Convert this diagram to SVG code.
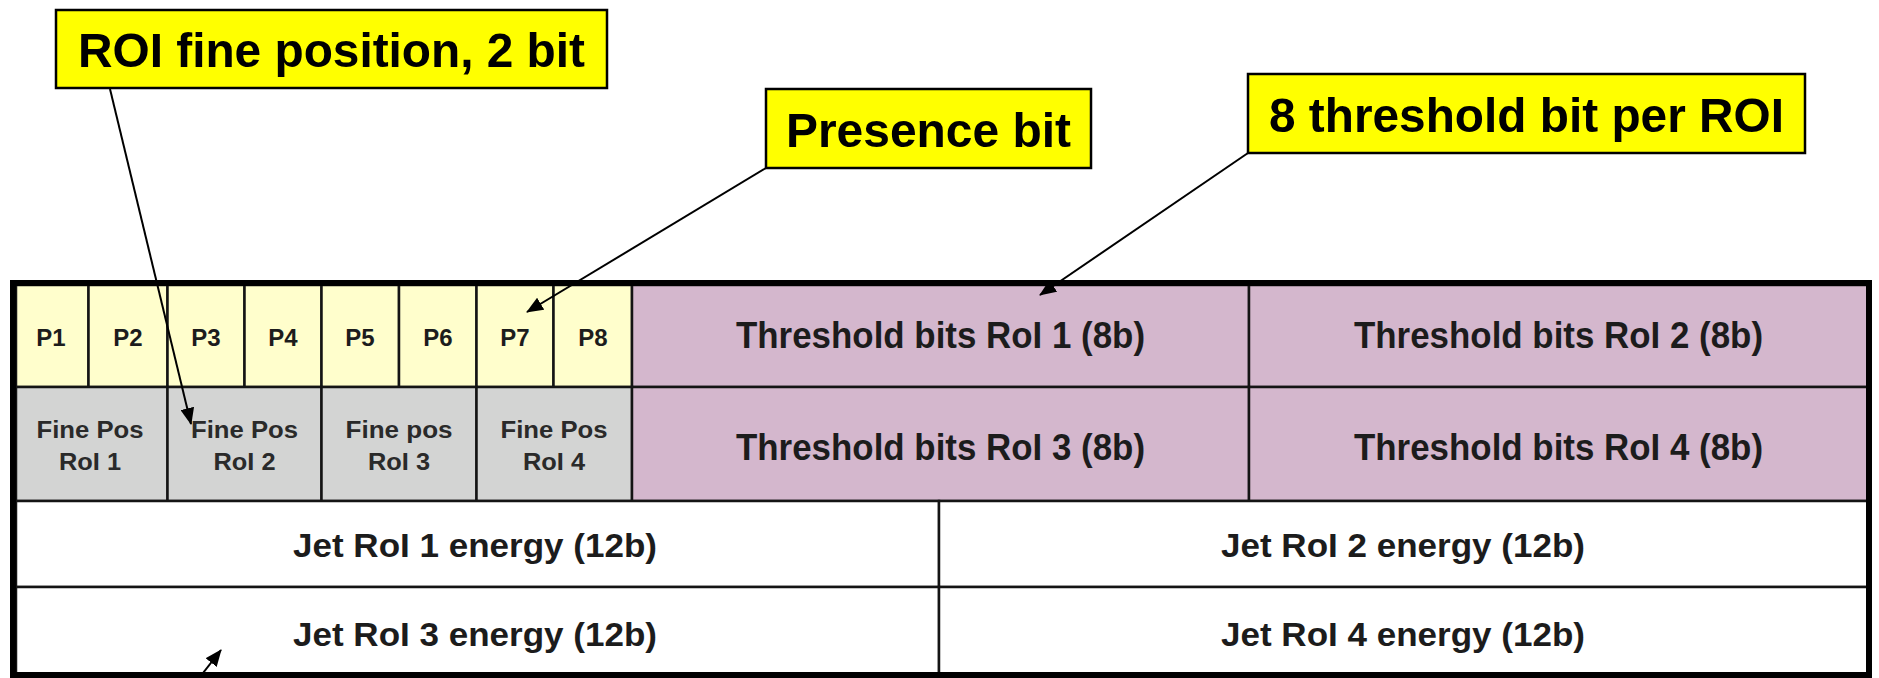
<svg xmlns="http://www.w3.org/2000/svg" width="1879" height="678" viewBox="0 0 1879 678">
<defs>
<style>
.cell{stroke:#141414;stroke-width:2.5}
.py{fill:#FFFECC}
.gr{fill:#D3D4D3}
.pu{fill:#D4B7CD}
.wh{fill:#FFFFFF}
.t{font-family:"Liberation Sans",Arial,sans-serif;font-weight:bold;fill:#1c1c1c;text-anchor:middle}
.p{font-size:24px}
.f{font-size:23px;fill:#2a2a2a}
.th{font-size:36px}
.jt{font-size:33px}
.co rect{fill:#FFFF00;stroke:#000;stroke-width:2.5}
.co text{font-family:"Liberation Sans",Arial,sans-serif;font-weight:bold;font-size:49px;fill:#000;text-anchor:middle}
.conn line{stroke:#000;stroke-width:2}
</style>
<marker id="arr" markerUnits="userSpaceOnUse" markerWidth="18" markerHeight="14" refX="16" refY="7" orient="auto">
<path d="M0,0 L17,7 L0,14 Z" fill="#000"/>
</marker>
</defs>
<rect width="1879" height="678" fill="#fff"/>

<g id="row1">
<g id="P1"><rect class="cell py" x="16" y="285" width="72.5" height="102"/><text class="t p" x="51" y="346">P1</text></g>
<g id="P2"><rect class="cell py" x="88.5" y="285" width="79" height="102"/><text class="t p" x="128" y="346">P2</text></g>
<g id="P3"><rect class="cell py" x="167.5" y="285" width="77" height="102"/><text class="t p" x="206" y="346">P3</text></g>
<g id="P4"><rect class="cell py" x="244.5" y="285" width="77" height="102"/><text class="t p" x="283" y="346">P4</text></g>
<g id="P5"><rect class="cell py" x="321.5" y="285" width="77.5" height="102"/><text class="t p" x="360" y="346">P5</text></g>
<g id="P6"><rect class="cell py" x="399" y="285" width="77.5" height="102"/><text class="t p" x="438" y="346">P6</text></g>
<g id="P7"><rect class="cell py" x="476.5" y="285" width="77" height="102"/><text class="t p" x="515" y="346">P7</text></g>
<g id="P8"><rect class="cell py" x="553.5" y="285" width="78.5" height="102"/><text class="t p" x="593" y="346">P8</text></g>
<g id="thr1"><rect class="cell pu" x="632" y="285" width="617" height="102"/><text class="t th" x="940.5" y="348" textLength="409" lengthAdjust="spacingAndGlyphs">Threshold bits RoI 1 (8b)</text></g>
<g id="thr2"><rect class="cell pu" x="1249" y="285" width="620" height="102"/><text class="t th" x="1558.5" y="348" textLength="409" lengthAdjust="spacingAndGlyphs">Threshold bits RoI 2 (8b)</text></g>
</g>

<g id="row2">
<g id="fp1"><rect class="cell gr" x="16" y="387" width="151.5" height="114"/><text class="t f" x="90" y="438" textLength="107" lengthAdjust="spacingAndGlyphs">Fine Pos</text><text class="t f" x="90" y="470" textLength="62" lengthAdjust="spacingAndGlyphs">RoI 1</text></g>
<g id="fp2"><rect class="cell gr" x="167.5" y="387" width="154" height="114"/><text class="t f" x="244.5" y="438" textLength="107" lengthAdjust="spacingAndGlyphs">Fine Pos</text><text class="t f" x="244.5" y="470" textLength="62" lengthAdjust="spacingAndGlyphs">RoI 2</text></g>
<g id="fp3"><rect class="cell gr" x="321.5" y="387" width="155" height="114"/><text class="t f" x="399" y="438" textLength="107" lengthAdjust="spacingAndGlyphs">Fine pos</text><text class="t f" x="399" y="470" textLength="62" lengthAdjust="spacingAndGlyphs">RoI 3</text></g>
<g id="fp4"><rect class="cell gr" x="476.5" y="387" width="155.5" height="114"/><text class="t f" x="554" y="438" textLength="107" lengthAdjust="spacingAndGlyphs">Fine Pos</text><text class="t f" x="554" y="470" textLength="62" lengthAdjust="spacingAndGlyphs">RoI 4</text></g>
<g id="thr3"><rect class="cell pu" x="632" y="387" width="617" height="114"/><text class="t th" x="940.5" y="460" textLength="409" lengthAdjust="spacingAndGlyphs">Threshold bits RoI 3 (8b)</text></g>
<g id="thr4"><rect class="cell pu" x="1249" y="387" width="620" height="114"/><text class="t th" x="1558.5" y="460" textLength="409" lengthAdjust="spacingAndGlyphs">Threshold bits RoI 4 (8b)</text></g>
</g>

<g id="row3">
<g id="jet1"><rect class="cell wh" x="16" y="501" width="923" height="86"/><text class="t jt" x="475" y="557" textLength="364" lengthAdjust="spacingAndGlyphs">Jet RoI 1 energy (12b)</text></g>
<g id="jet2"><rect class="cell wh" x="939" y="501" width="930" height="86"/><text class="t jt" x="1403" y="557" textLength="364" lengthAdjust="spacingAndGlyphs">Jet RoI 2 energy (12b)</text></g>
</g>
<g id="row4">
<g id="jet3"><rect class="cell wh" x="16" y="587" width="923" height="88"/><text class="t jt" x="475" y="646" textLength="364" lengthAdjust="spacingAndGlyphs">Jet RoI 3 energy (12b)</text></g>
<g id="jet4"><rect class="cell wh" x="939" y="587" width="930" height="88"/><text class="t jt" x="1403" y="646" textLength="364" lengthAdjust="spacingAndGlyphs">Jet RoI 4 energy (12b)</text></g>
</g>

<rect id="frame" x="13" y="283" width="1856" height="392" fill="none" stroke="#000" stroke-width="6"/>

<g id="callout-fine" class="co"><rect x="56" y="10" width="551" height="78"/><text x="331.5" y="67" textLength="507" lengthAdjust="spacingAndGlyphs">ROI fine position, 2 bit</text></g>
<g id="callout-presence" class="co"><rect x="766" y="89" width="325" height="79"/><text x="928.5" y="147" textLength="285" lengthAdjust="spacingAndGlyphs">Presence bit</text></g>
<g id="callout-threshold" class="co"><rect x="1248" y="74" width="557" height="79"/><text x="1526.5" y="132" textLength="515" lengthAdjust="spacingAndGlyphs">8 threshold bit per ROI</text></g>

<g id="connectors" class="conn">
<line x1="110" y1="89" x2="191" y2="424" marker-end="url(#arr)"/>
<line x1="766" y1="168" x2="527" y2="312" marker-end="url(#arr)"/>
<line x1="1248" y1="153" x2="1040" y2="295" marker-end="url(#arr)"/>
<line x1="196" y1="682" x2="221" y2="650" marker-end="url(#arr)"/>
</g>
</svg>
